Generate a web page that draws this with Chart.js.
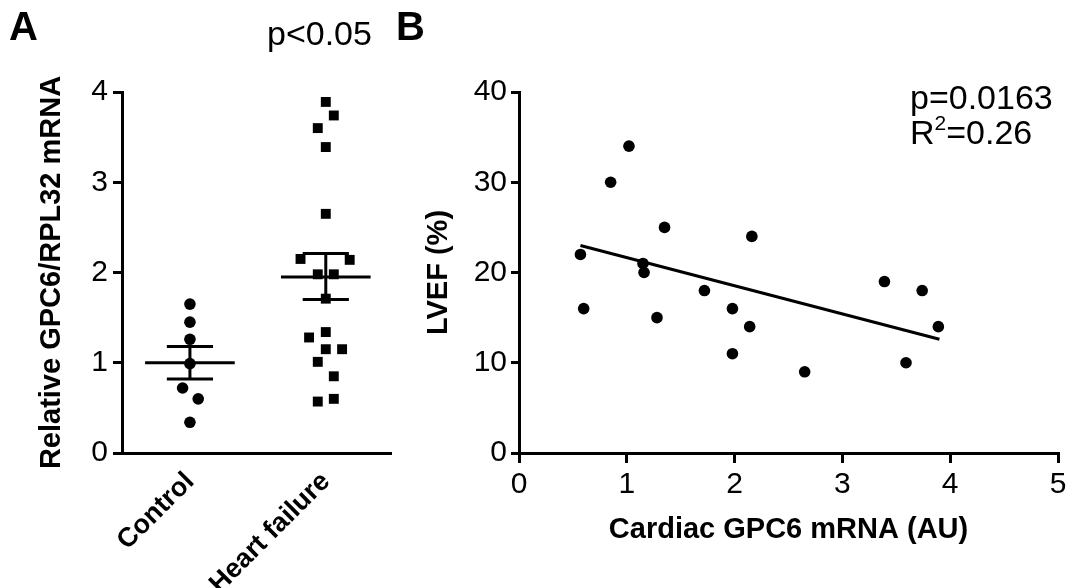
<!DOCTYPE html>
<html lang="en">
<head>
    <meta charset="UTF-8">
    <title>GPC6 in heart failure</title>
    <script src="https://cdn.jsdelivr.net/npm/chart.js"></script>
    <style>
        body {
            margin: 0;
            background: #fff;
            font-family: 'Liberation Sans', Arial, sans-serif;
        }
        .wrap {
            position: relative;
            width: 1082px;
            height: 588px;
            overflow: hidden;
        }
        canvas {
            position: absolute;
            top: 0;
        }
        #chartA { left: 0; }
        #chartB { left: 400px; }
        .label {
            position: absolute;
            color: #000;
            line-height: 1;
            white-space: nowrap;
        }
        .panel { font-weight: bold; font-size: 40px; }
        .stat { font-size: 34px; }
        .stat sup { font-size: 21px; vertical-align: 14px; line-height: 0; }
    </style>
</head>
<body>
    <div class="wrap">
        <canvas id="chartA" width="400" height="588"></canvas>
        <canvas id="chartB" width="682" height="588"></canvas>
        <div class="label panel" style="left:9px; top:6px;">A</div>
        <div class="label panel" style="left:396px; top:6px;">B</div>
        <div class="label stat" style="left:267px; top:16px;">p&lt;0.05</div>
        <div class="label stat" style="left:910px; top:80px;">p=0.0163</div>
        <div class="label stat" style="left:910px; top:115px;">R<sup>2</sup>=0.26</div>
    </div>

    <script>
        // Panel A: GPC6/RPL32 mRNA per group
        const groups = ['Control', 'Heart failure'];
        const groupX = [1, 2];

        const controlValues = [1.65, 1.45, 1.26, 0.99, 0.72, 0.60, 0.34];
        const controlJitter = [0, 0, 0, 0, -0.054, 0.061, 0];

        const hfValues = [3.89, 3.74, 3.60, 3.39, 2.65, 2.15, 2.14, 1.98, 1.98, 1.71,
                          1.34, 1.28, 1.15, 1.15, 1.01, 0.85, 0.57, 0.60];
        const hfJitter = [0, 0.059, -0.059, 0, 0, -0.186, 0.176, -0.059, 0.059, 0,
                          0, -0.123, 0, 0.12, -0.059, 0.059, -0.059, 0.059];

        const groupMeans = [1.00, 1.95];
        const groupSemLow = [0.82, 1.70];
        const groupSemHigh = [1.18, 2.21];
        const yTicksA = [0, 1, 2, 3, 4];

        // Panel B: LVEF vs cardiac GPC6 mRNA
        const gpc6 = [0.57, 0.60, 0.85, 1.02, 1.15, 1.16, 1.28, 1.35, 1.72, 1.98,
                      1.98, 2.14, 2.16, 2.65, 3.39, 3.59, 3.74, 3.89];
        const lvef = [22, 16, 30, 34, 21, 20, 15, 25, 18, 16,
                      11, 14, 24, 9, 19, 10, 18, 14];
        const fitX = [0.57, 3.90];
        const fitY = [23.0, 12.6];

        const black = '#000';
        const tickFont = { family: 'Liberation Sans', size: 30 };
        const titleFont = { family: 'Liberation Sans', size: 29, weight: 'bold' };

        function segment(x1, x2, y1, y2) {
            return {
                type: 'line',
                data: [{ x: x1, y: y1 }, { x: x2, y: y2 }],
                borderColor: black,
                borderWidth: 3,
                pointRadius: 0,
                borderCapStyle: 'butt'
            };
        }

        // mean and SEM bars for each group
        const barSets = [];
        groupX.forEach((gx, i) => {
            barSets.push(segment(gx - 0.33, gx + 0.33, groupMeans[i], groupMeans[i]));
            barSets.push(segment(gx - 0.17, gx + 0.17, groupSemHigh[i], groupSemHigh[i]));
            barSets.push(segment(gx - 0.17, gx + 0.17, groupSemLow[i], groupSemLow[i]));
            barSets.push(segment(gx, gx, groupSemLow[i], groupSemHigh[i]));
        });

        new Chart(document.getElementById('chartA'), {
            type: 'scatter',
            data: {
                datasets: [
                    {
                        label: groups[0],
                        data: controlValues.map((v, i) => ({ x: groupX[0] + controlJitter[i], y: v })),
                        pointStyle: 'circle',
                        pointRadius: 5.8,
                        backgroundColor: black,
                        borderColor: black,
                        borderWidth: 0
                    },
                    {
                        label: groups[1],
                        data: hfValues.map((v, i) => ({ x: groupX[1] + hfJitter[i], y: v })),
                        pointStyle: 'rect',
                        pointRadius: 7,
                        backgroundColor: black,
                        borderColor: black,
                        borderWidth: 0
                    },
                    ...barSets
                ]
            },
            options: {
                responsive: false,
                animation: false,
                layout: { padding: { left: 0, right: 9, top: 92, bottom: 0 } },
                plugins: { legend: { display: false }, tooltip: { enabled: false } },
                scales: {
                    x: {
                        type: 'linear',
                        min: 0.5,
                        max: 2.48,
                        afterBuildTicks: s => { s.ticks = groupX.map(v => ({ value: v })); },
                        afterFit: s => { s.height = 135; },
                        ticks: {
                            color: black,
                            font: { family: 'Liberation Sans', size: 27, weight: 'bold' },
                            minRotation: 45,
                            maxRotation: 45,
                            autoSkip: false,
                            padding: 5,
                            callback: v => groups[groupX.indexOf(v)]
                        },
                        grid: { display: false },
                        border: { color: black, width: 3 }
                    },
                    y: {
                        min: 0,
                        max: 4,
                        afterBuildTicks: s => { s.ticks = yTicksA.map(v => ({ value: v })); },
                        afterFit: s => { s.width = 122; },
                        ticks: { color: black, font: tickFont, padding: 5 },
                        grid: { drawOnChartArea: false, color: black, lineWidth: 3, tickLength: 9 },
                        border: { color: black, width: 3 },
                        title: {
                            display: true,
                            text: 'Relative GPC6/RPL32 mRNA',
                            color: black,
                            font: titleFont,
                            padding: { top: 35, bottom: 0 }
                        }
                    }
                }
            }
        });

        new Chart(document.getElementById('chartB'), {
            type: 'scatter',
            data: {
                datasets: [
                    {
                        label: 'LVEF',
                        data: gpc6.map((x, i) => ({ x: x, y: lvef[i] })),
                        pointRadius: 5.8,
                        backgroundColor: black,
                        borderColor: black,
                        borderWidth: 0
                    },
                    {
                        type: 'line',
                        label: 'Linear fit',
                        data: fitX.map((x, i) => ({ x: x, y: fitY[i] })),
                        borderColor: black,
                        borderWidth: 3,
                        pointRadius: 0
                    }
                ]
            },
            options: {
                responsive: false,
                animation: false,
                layout: { padding: { left: 0, right: 24, top: 92, bottom: 0 } },
                plugins: { legend: { display: false }, tooltip: { enabled: false } },
                scales: {
                    x: {
                        type: 'linear',
                        min: 0,
                        max: 5,
                        afterFit: s => { s.height = 135; },
                        ticks: { stepSize: 1, color: black, font: tickFont, padding: 4 },
                        grid: { drawOnChartArea: false, color: black, lineWidth: 3, tickLength: 10 },
                        border: { color: black, width: 3 },
                        title: {
                            display: true,
                            text: 'Cardiac GPC6 mRNA (AU)',
                            color: black,
                            font: titleFont,
                            padding: { top: 0, bottom: 41 }
                        }
                    },
                    y: {
                        min: 0,
                        max: 40,
                        afterFit: s => { s.width = 119; },
                        ticks: { stepSize: 10, color: black, font: tickFont, padding: 4 },
                        grid: { drawOnChartArea: false, color: black, lineWidth: 3, tickLength: 8 },
                        border: { color: black, width: 3 },
                        title: {
                            display: true,
                            text: 'LVEF (%)',
                            color: black,
                            font: titleFont,
                            padding: { top: 22, bottom: 0 }
                        }
                    }
                }
            }
        });
    </script>
</body>
</html>
